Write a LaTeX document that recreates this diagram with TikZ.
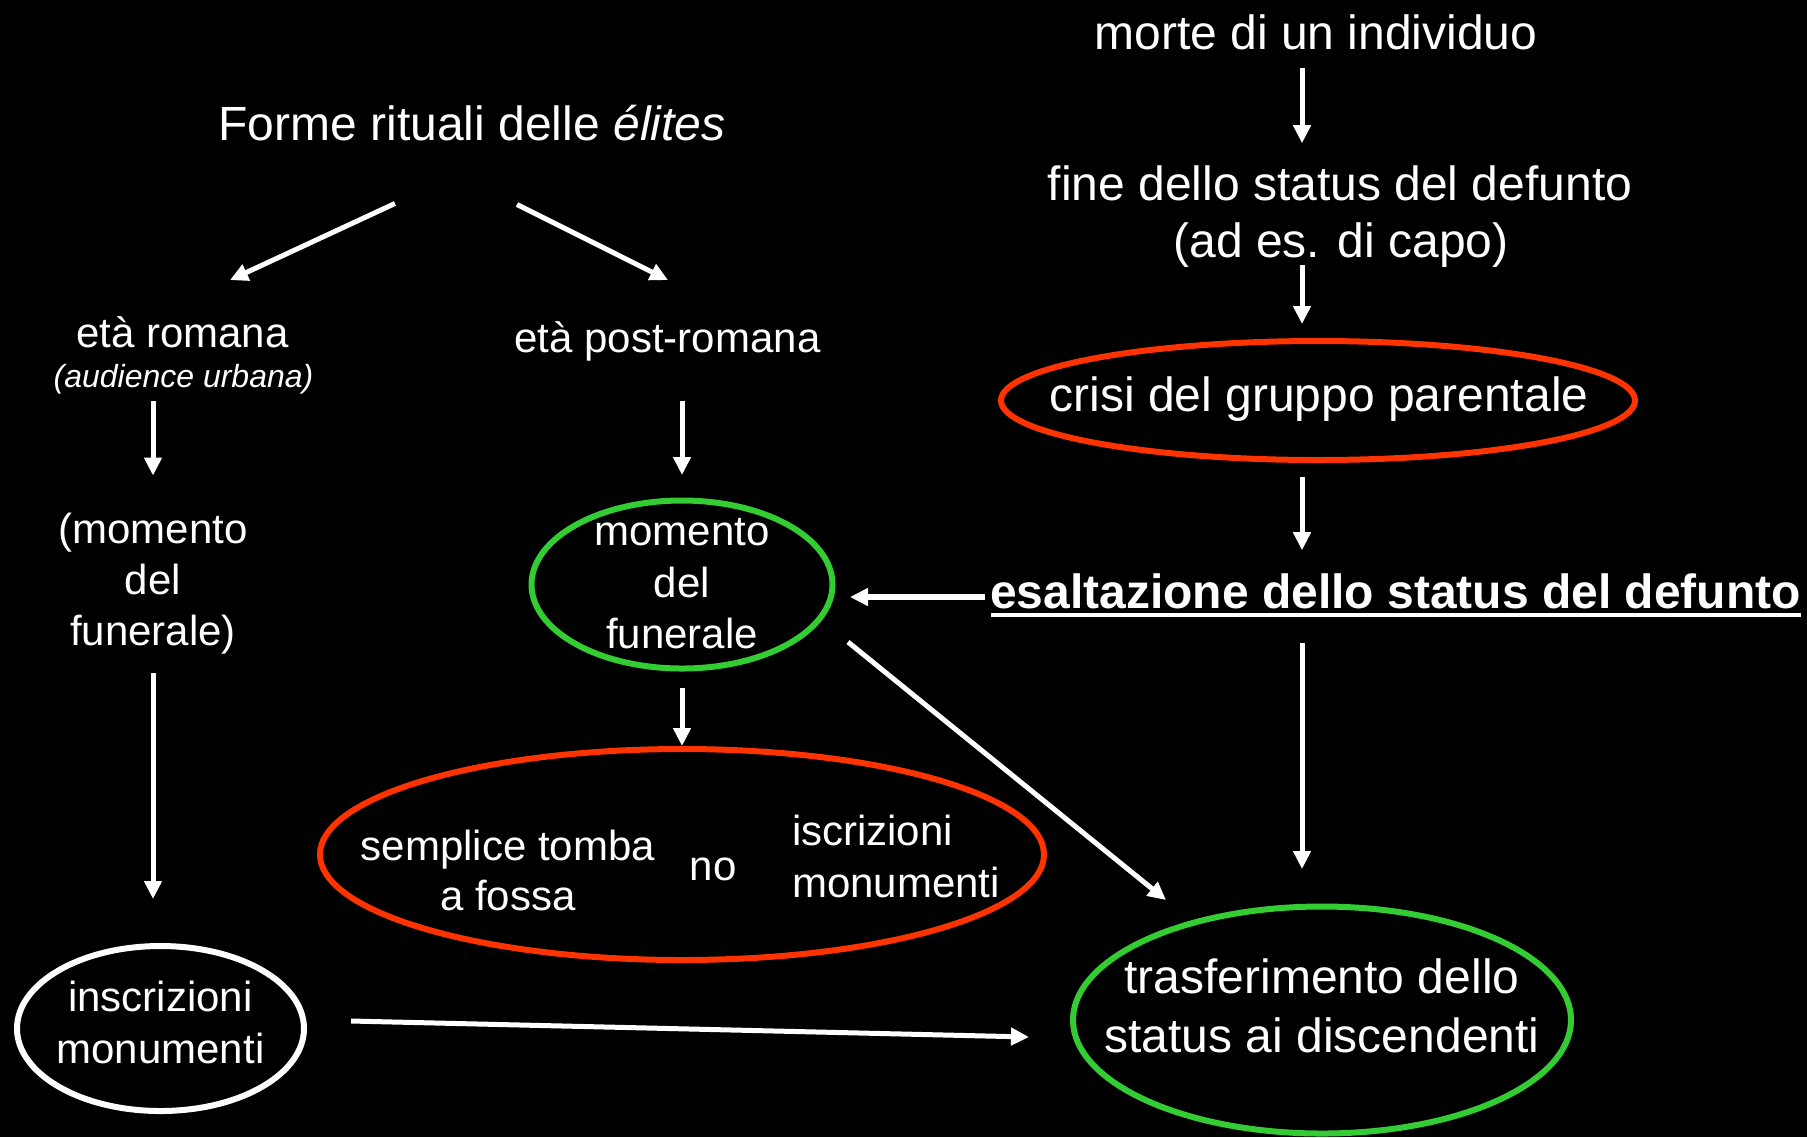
\documentclass[tikz,border=0pt]{standalone}
\usepackage{fontspec}
\setmainfont{Liberation Sans}
\usetikzlibrary{shapes.geometric,arrows.meta,calc}
\definecolor{redE}{HTML}{FF3300}
\definecolor{greenE}{HTML}{33CC33}
\begin{document}
\begin{tikzpicture}[x=0.5pt,y=-0.5pt,
  txt/.style={text=white,inner sep=0pt,outer sep=0pt,anchor=base,font=\fontsize{24}{28}\selectfont},
  txs/.style={text=white,inner sep=0pt,outer sep=0pt,anchor=base,font=\fontsize{21}{25}\selectfont},
  oval/.style={ellipse,inner sep=0pt,outer sep=0pt,line width=3pt},
  arr/.style={white,line width=2.5pt,-{Triangle[length=9pt,width=8.5pt]}}]
\useasboundingbox[fill=black] (0,0) rectangle (1807,1137);
% ---- left / middle text
\node[txt] (forme) at (472,140) {Forme rituali delle \textit{élites}};
\node[txs] (romana) at (182.5,347) {età romana};
\node[txs,font=\fontsize{16}{18}\selectfont\itshape] (audience) at (183.5,387) {(audience urbana)};
\node[txs] (postrom) at (667.5,352) {età post-romana};
\node[txs] (mom1) at (153,543) {(momento};
\node[txs] (mom2) at (153,594) {del};
\node[txs] (mom3) at (153,645) {funerale)};
% green ellipse: momento del funerale
\node[oval,draw=greenE,minimum width=150.5pt,minimum height=84pt] (funerale) at (682,584.5) {};
\node[txs] (fun1) at (682,545) {momento};
\node[txs] (fun2) at (682,597) {del};
\node[txs] (fun3) at (682,648) {funerale};
% red ellipse
\node[oval,draw=redE,minimum width=362pt,minimum height=105.5pt] (red) at (682,854.5) {};
\node[txs] (semp1) at (508,860) {semplice tomba};
\node[txs] (semp2) at (508,910) {a fossa};
\node[txs] (no) at (713,880) {no};
\node[txs,anchor=base west] (iscr1) at (792,845) {iscrizioni};
\node[txs,anchor=base west] (iscr2) at (792,897) {monumenti};
% white ellipse
\node[oval,draw=white,minimum width=143.5pt,minimum height=82.5pt] (inscr) at (160.5,1028.5) {};
\node[txs] (ins1) at (160.5,1011) {inscrizioni};
\node[txs] (ins2) at (160.5,1063) {monumenti};
% ---- right column
\coordinate (spine) at (1302,0);
\node[txt] (morte) at (1316,49) {morte di un individuo};
\node[txt] (fine1) at (1340,200) {fine dello status del defunto};
\node[txt] (fine2) at (1341,257) {(ad es. di capo)};
\node[oval,draw=redE,minimum width=317pt,minimum height=59.5pt] (crisi) at (1318,400.5) {};
\node[txt] (crisitxt) at (1319,411) {crisi del gruppo parentale};
\node[txt,anchor=base west,font=\fontsize{24}{28}\selectfont\bfseries] (esalt) at (990,608) {esaltazione dello status del defunto};
\draw[white,line width=2pt] ($(esalt.base west)+(1,7)$) -- ($(esalt.base east)+(0,7)$);
\node[oval,draw=greenE,minimum width=249pt,minimum height=113.5pt] (trasf) at (1322,1020) {};
\node[txt] (tr1) at (1322,993) {trasferimento dello};
\node[txt] (tr2) at (1322,1052) {status ai discendenti};
% ---- arrows
\draw[arr] ($(spine |- morte.south)+(0,19)$) -- ($(spine |- fine1.north)+(0,-22)$);
\draw[arr] ($(spine |- fine2.south)+(0,-2)$) -- ($(spine |- crisi.north)+(0,-17)$);
\draw[arr] ($(spine |- crisi.south)+(0,17)$) -- ($(spine |- esalt.north)+(0,-23)$);
\coordinate (a4s) at ($(esalt.base west)+(-5,-11)$);
\draw[arr,line width=3pt] (a4s) -- ($(funerale.east |- a4s)+(17.5,0)$);
\draw[arr] ($(spine |- esalt.south)+(0,35)$) -- ($(spine |- trasf.north)+(0,-37.5)$);
\draw[arr] ($(funerale.east)+(15.5,57.5)$) -- ($(trasf.north)+(-156,-6.5)$);
\draw[arr] ($(forme.south)+(-77,63)$) -- ($(romana.north)+(47.5,-36)$);
\draw[arr] ($(forme.south)+(45,64)$) -- ($(postrom.north)+(0.5,-41)$);
\draw[arr] ($(audience.south -| mom1)+(0,7)$) -- ($(mom1.north)+(0,-37)$);
\draw[arr] ($(postrom.south -| funerale)+(0,40)$) -- ($(funerale.north)+(0,-25.5)$);
\draw[arr] ($(mom3.south)+(0,19)$) -- ($(mom3 |- inscr.north)+(0,-47)$);
\draw[arr] ($(funerale.south)+(0,19.5)$) -- ($(red.north)+(0,-3)$);
\draw[arr] ($(inscr.east)+(47,-7.5)$) -- ($(trasf.west)+(-44,17)$);
\end{tikzpicture}
\end{document}
